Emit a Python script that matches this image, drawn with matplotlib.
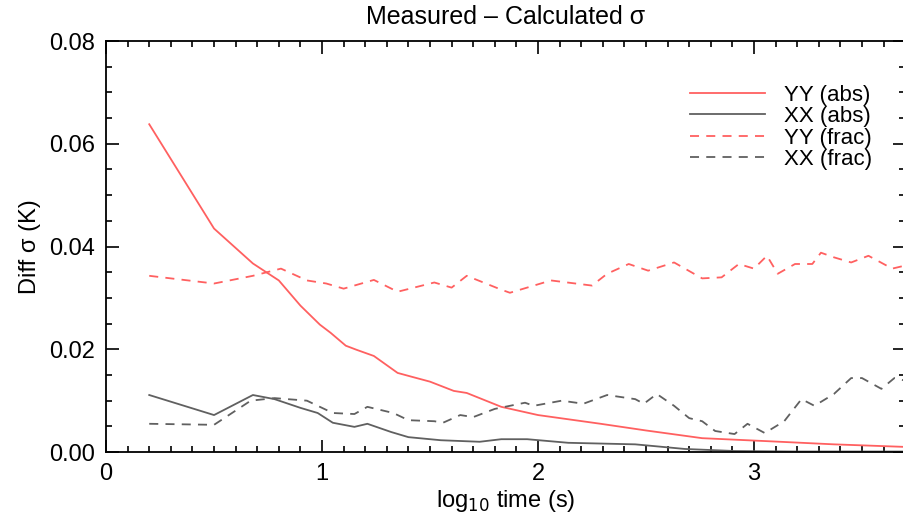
import numpy as np
import matplotlib.pyplot as plt
from matplotlib.ticker import MultipleLocator

plt.rcParams['font.family'] = ['Liberation Sans', 'DejaVu Sans']

# YY (abs): red solid
yy_abs_x = [0.20, 0.50, 0.68, 0.80, 0.90, 0.99, 1.04, 1.11, 1.16, 1.24, 1.35, 1.42, 1.50,
            1.61, 1.67, 1.83, 2.00, 2.29, 2.50, 2.76, 3.07, 3.37, 3.70]
yy_abs_y = [0.0638, 0.0435, 0.0367, 0.0334, 0.0285, 0.0248, 0.0232, 0.0207, 0.0199, 0.0187,
            0.0154, 0.0146, 0.0137, 0.0119, 0.0115, 0.0088, 0.0072, 0.0055, 0.0042, 0.0027,
            0.0021, 0.0015, 0.0010]

# XX (abs): gray solid
xx_abs_x = [0.20, 0.50, 0.68, 0.78, 0.90, 0.98, 1.05, 1.15, 1.21, 1.32, 1.40, 1.55, 1.73,
            1.83, 1.95, 2.14, 2.45, 2.68, 2.91, 3.20, 3.50, 3.70]
xx_abs_y = [0.0111, 0.0072, 0.0111, 0.0103, 0.0086, 0.0076, 0.0057, 0.0049, 0.0055, 0.0039,
            0.0029, 0.0023, 0.0020, 0.0025, 0.0025, 0.0018, 0.0015, 0.0006, 0.0002, 0.0001,
            0.0001, 0.0001]

# YY (frac): red dashed
yy_frac_x = [0.20, 0.50, 0.68, 0.81, 0.93, 1.02, 1.10, 1.24, 1.35, 1.52, 1.60, 1.67, 1.83,
             1.87, 2.06, 2.25, 2.32, 2.42, 2.51, 2.63, 2.76, 2.85, 2.93, 3.00, 3.06, 3.11,
             3.19, 3.27, 3.31, 3.37, 3.45, 3.53, 3.64, 3.70]
yy_frac_y = [0.0343, 0.0328, 0.0343, 0.0357, 0.0334, 0.0328, 0.0318, 0.0335, 0.0312, 0.0330,
             0.0320, 0.0343, 0.0316, 0.0310, 0.0334, 0.0324, 0.0347, 0.0366, 0.0353, 0.0369,
             0.0338, 0.0340, 0.0366, 0.0357, 0.0382, 0.0347, 0.0366, 0.0366, 0.0388, 0.0379,
             0.0369, 0.0382, 0.0357, 0.0363]

# XX (frac): gray dashed
xx_frac_x = [0.20, 0.50, 0.67, 0.78, 0.93, 1.05, 1.15, 1.21, 1.33, 1.40, 1.52, 1.56, 1.64,
             1.70, 1.80, 1.94, 1.98, 2.11, 2.21, 2.32, 2.45, 2.49, 2.55, 2.63, 2.70, 2.76,
             2.82, 2.91, 2.97, 3.05, 3.14, 3.22, 3.28, 3.37, 3.45, 3.50, 3.59, 3.65, 3.70]
xx_frac_y = [0.0055, 0.0053, 0.0100, 0.0105, 0.0100, 0.0076, 0.0074, 0.0088, 0.0076, 0.0062,
             0.0060, 0.0057, 0.0072, 0.0068, 0.0084, 0.0096, 0.0090, 0.0100, 0.0094, 0.0111,
             0.0103, 0.0094, 0.0113, 0.0090, 0.0066, 0.0060, 0.0041, 0.0035, 0.0055, 0.0037,
             0.0060, 0.0103, 0.0090, 0.0113, 0.0144, 0.0144, 0.0123, 0.0144, 0.0139]

red = '#ff6060'
gray = '#606060'

fig = plt.figure(figsize=(9.04, 5.19), dpi=100)
ax = fig.add_axes([0.1173, 0.129, 0.884, 0.792])

ax.plot(yy_abs_x, yy_abs_y, color=red, lw=1.3, label='YY (abs)')
ax.plot(xx_abs_x, xx_abs_y, color=gray, lw=1.3, label='XX (abs)')
ax.plot(yy_frac_x, yy_frac_y, color=red, lw=1.3, ls=(0, (5, 4)), label='YY (frac)')
ax.plot(xx_frac_x, xx_frac_y, color=gray, lw=1.3, ls=(0, (5, 4)), label='XX (frac)')

ax.set_xlim(0, 3.70)
ax.set_ylim(0, 0.08)
ax.xaxis.set_major_locator(MultipleLocator(1))
ax.xaxis.set_minor_locator(MultipleLocator(0.1))
ax.yaxis.set_major_locator(MultipleLocator(0.02))
ax.yaxis.set_minor_locator(MultipleLocator(0.005))
ax.set_yticklabels(['%.2f' % v for v in ax.get_yticks()])
ax.tick_params(which='both', direction='in', top=True, right=True, labelsize=17, width=1.2)
ax.tick_params(which='major', length=9, pad=8)
ax.tick_params(which='minor', length=4)
for s in ax.spines.values():
    s.set_linewidth(1.3)

ax.set_title('Measured \u2013 Calculated \u03c3', fontsize=18, pad=12)
ax.set_xlabel('log$_{10}$ time (s)', fontsize=17, labelpad=2)
ax.set_ylabel('Diff \u03c3 (K)', fontsize=17, labelpad=6)

ax.legend(loc='upper right', bbox_to_anchor=(0.97, 0.915), frameon=False, fontsize=16,
          handlelength=3.4, handletextpad=0.85, labelspacing=0.02, borderaxespad=0)

fig.savefig('out.png', dpi=100)
